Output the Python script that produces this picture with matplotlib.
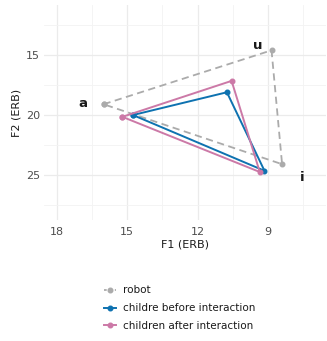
import matplotlib
matplotlib.use("Agg")
import matplotlib.pyplot as plt
from matplotlib.lines import Line2D

robot_f1 = [16.0, 8.85, 8.4, 16.0]
robot_f2 = [19.1, 14.6, 24.1, 19.1]
before_f1 = [14.75, 10.75, 9.15, 14.75]
before_f2 = [20.0, 18.1, 24.65, 20.0]
after_f1 = [15.2, 10.55, 9.35, 15.2]
after_f2 = [20.15, 17.15, 24.75, 20.15]
vowel_labels = ["a", "u", "i"]
label_f1 = [16.9, 9.45, 7.55]
label_f2 = [19.0, 14.2, 25.2]

fig = plt.figure(figsize=(3.27, 3.41), dpi=100)
ax = fig.add_axes([0.135, 0.355, 0.862, 0.630])
ax.set_xlim(18.53, 6.53)
ax.set_ylim(28.75, 10.83)

for s in ax.spines.values():
    s.set_visible(False)
ax.set_xticks([18, 15, 12, 9])
ax.set_yticks([15, 20, 25])
ax.set_xticks([16.5, 13.5, 10.5, 7.5], minor=True)
ax.set_yticks([12.5, 17.5, 22.5, 27.5], minor=True)
ax.grid(which="major", color="#EBEBEB", lw=0.9)
ax.grid(which="minor", color="#F3F3F3", lw=0.6)
ax.tick_params(which="both", length=0, labelsize=8, labelcolor="#4D4D4D")
ax.tick_params(axis="x", pad=5)
ax.tick_params(axis="y", pad=3)
ax.set_axisbelow(True)

grey, blue, pink = "#ABABAB", "#0E72B0", "#CC79A7"
ax.plot(robot_f1, robot_f2, color=grey, lw=1.3, ls=(0, (4, 2.5)), marker="o", ms=3.3)
ax.plot(before_f1, before_f2, color=blue, lw=1.4, marker="o", ms=3.3)
ax.plot(after_f1, after_f2, color=pink, lw=1.4, marker="o", ms=3.3)

for t, x, y in zip(vowel_labels, label_f1, label_f2):
    ax.text(x, y, t, fontsize=9.5, fontweight="bold", ha="center", va="center", color="#1A1A1A")

ax.set_xlabel("F1 (ERB)", fontsize=8, color="#1A1A1A", labelpad=2)
ax.set_ylabel("F2 (ERB)", fontsize=8, color="#1A1A1A", labelpad=3)

handles = [
    Line2D([], [], color=grey, lw=1.3, ls=(0, (1.5, 1.5)), marker="o", ms=3.3),
    Line2D([], [], color=blue, lw=1.4, marker="o", ms=3.3),
    Line2D([], [], color=pink, lw=1.4, marker="o", ms=3.3),
]
labels = ["robot", "childre before interaction", "children after interaction"]
fig.legend(handles, labels, loc="upper left", bbox_to_anchor=(0.305, 0.175), frameon=False,
           fontsize=7.5, handlelength=1.2, handletextpad=0.6, labelspacing=0.75, borderaxespad=0,
           labelcolor="#1A1A1A")

fig.savefig("out.png", dpi=100, facecolor="white")
